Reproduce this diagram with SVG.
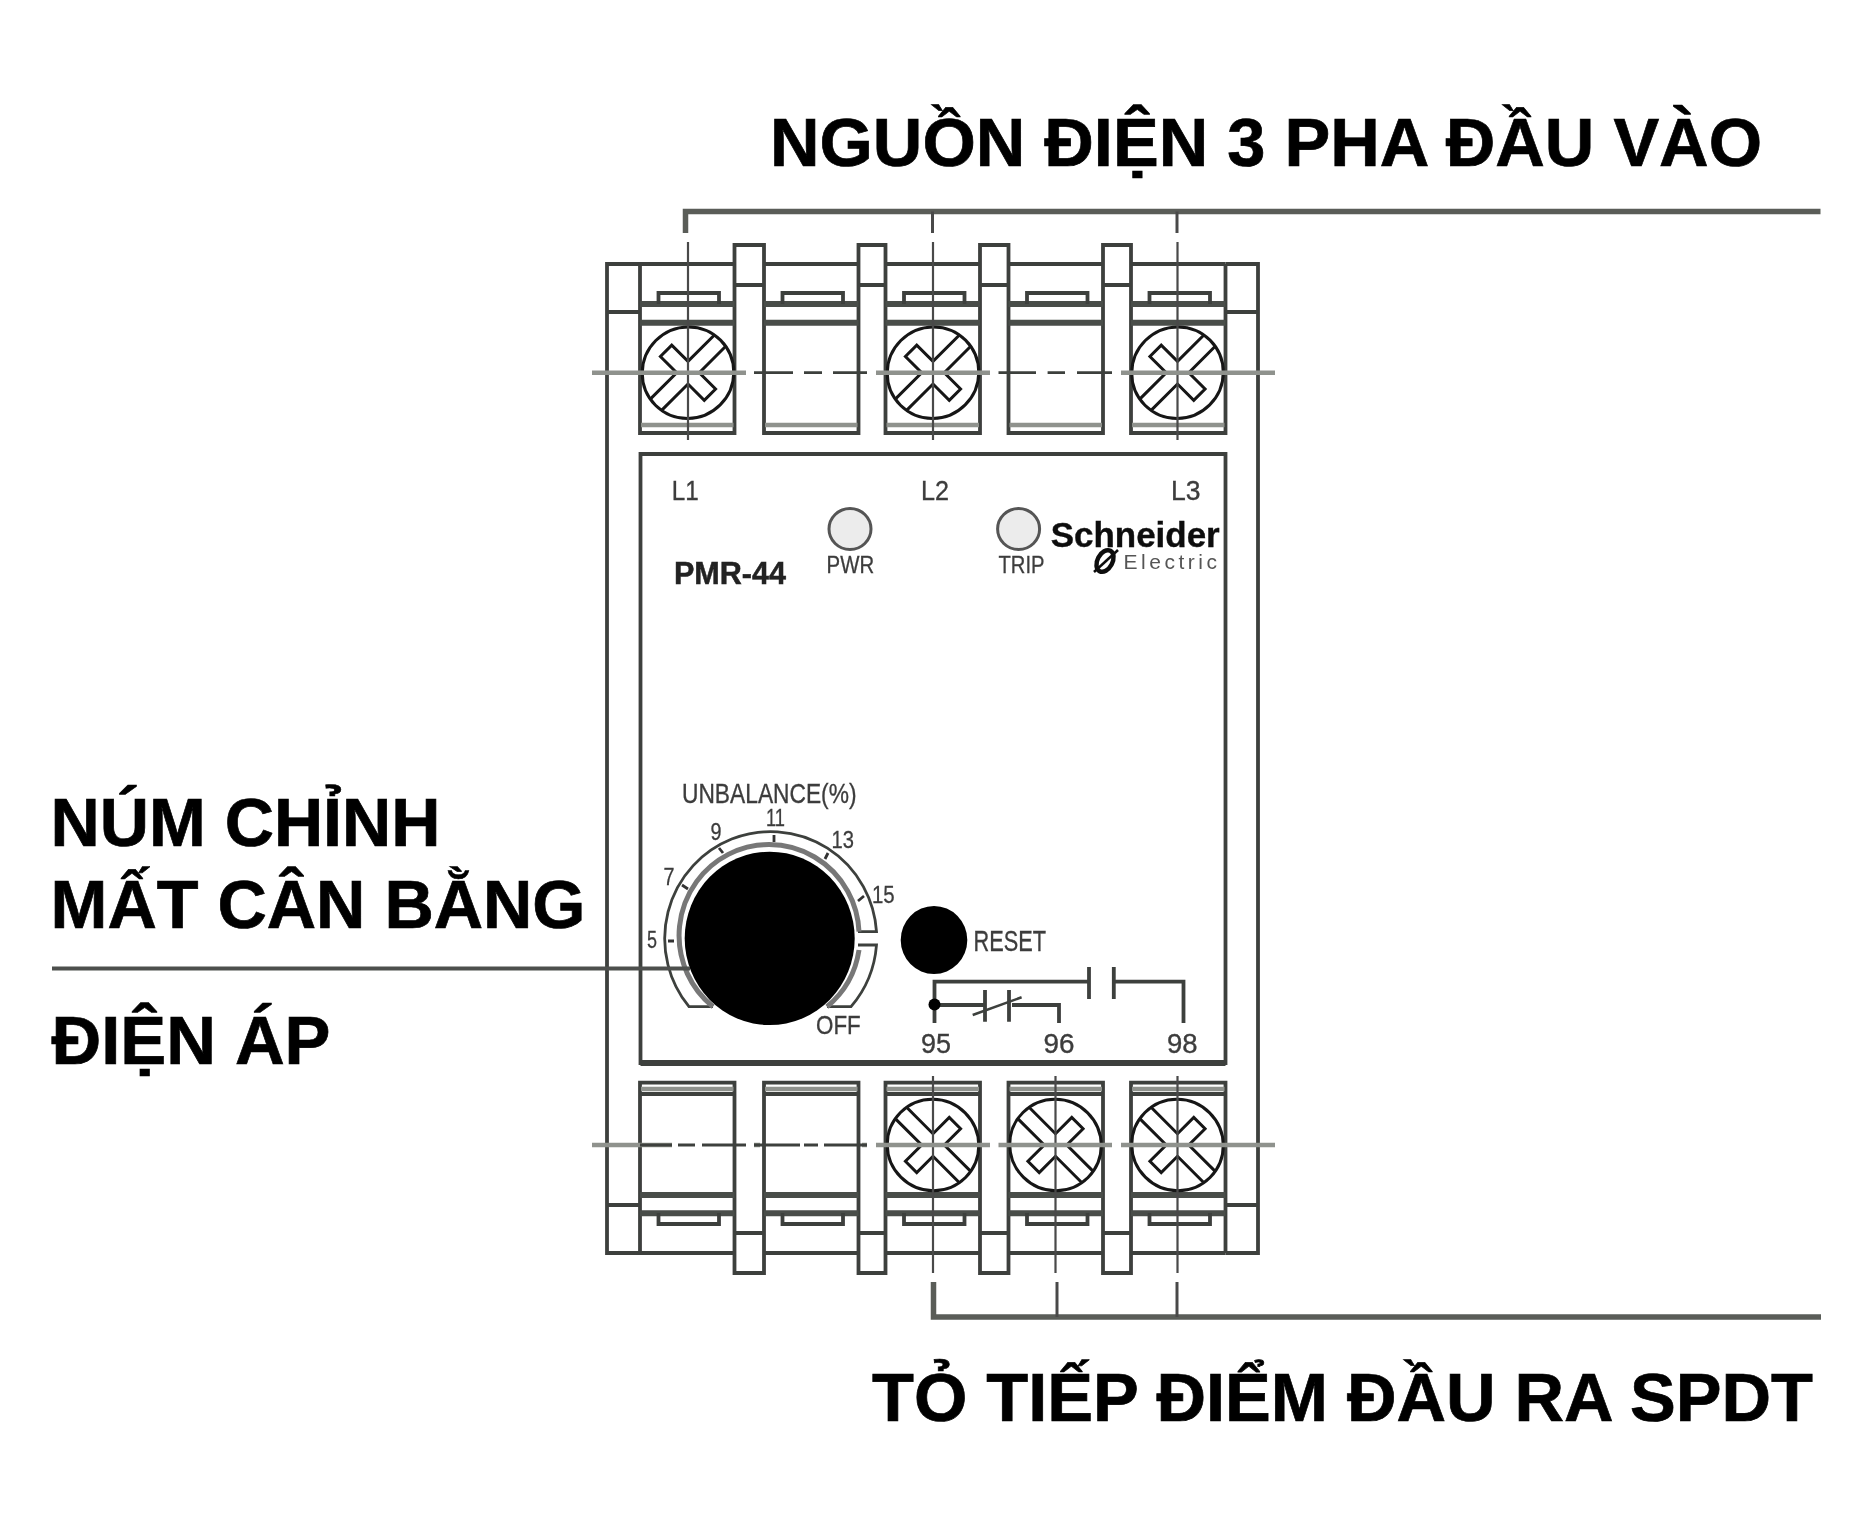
<svg xmlns="http://www.w3.org/2000/svg" xmlns:xlink="http://www.w3.org/1999/xlink" width="1876" height="1529" viewBox="0 0 1876 1529">
<style>
text{font-family:"Liberation Sans",Arial,sans-serif}
.h{font-weight:700;font-size:69px;fill:#000;stroke:#000;stroke-width:.7}
.l{font-size:28px;fill:#3c3c3c;stroke:#3c3c3c;stroke-width:.35}
.s{font-size:24px;fill:#3c3c3c;stroke:#3c3c3c;stroke-width:.3}
.ln{fill:none;stroke:#3d403d;stroke-width:3.8}
.th{fill:none;stroke:#4a4d4a;stroke-width:6}
.gr{fill:none;stroke:#8f928d;stroke-width:4.6}
.cl{fill:none;stroke:#4a4a4a;stroke-width:2.2}
.sc{fill:#fff;stroke:#161616;stroke-width:3}
.br{fill:none;stroke:#5a5d59;stroke-width:5.5}
</style>
<defs>
<filter id="soft" x="-2%" y="-2%" width="104%" height="104%"><feGaussianBlur stdDeviation="0.7"/></filter>
<g id="tt">
<path class="ln" d="M0,264V433H94.5V264"/>
<path class="th" d="M0,304H94.5M0,322.7H94.5"/>
<path class="gr" d="M1,425H93.5"/>
<path class="ln" d="M18.5,304V293H79V304"/>
</g>
<g id="tb">
<path class="ln" d="M0,1253V1082.7H94.5V1253"/>
<path class="gr" d="M1,1089H93.5"/>
<path class="ln" d="M0,1094H94.5"/>
<path class="th" d="M0,1195H94.5M0,1213.3H94.5"/>
<path class="ln" d="M18.5,1213V1224H79V1213"/>
</g>
<g id="screw">
<ellipse class="sc" cx="0" cy="0" rx="46" ry="45.5"/>
<path class="sc" style="fill:none" d="M-45,-8H-8V-31H8V-8H45M45,8H8V31H-8V8H-45"/>
</g>
</defs>
<rect width="1876" height="1529" fill="#fff"/>

<g id="device" filter="url(#soft)">
<g id="body">
<path class="ln" d="M640,264H607V1253H640M1225.5,264H1258V1253H1225.5"/>
<path class="ln" d="M607,312H640M1225.5,312H1258M607,1205H640M1225.5,1205H1258"/>
<path class="ln" d="M640,264H734.5M764,264H858.5M885.5,264H980M1008.5,264H1103M1131,264H1225.5"/>
<path class="ln" d="M640,1253H734.5M764,1253H858.5M885.5,1253H980M1008.5,1253H1103M1131,1253H1225.5"/>
</g>
<g id="posts-top">
<path class="ln" d="M734.5,264V245H764V264M734.5,285H764"/>
<path class="ln" d="M858.5,264V245H885.5V264M858.5,285H885.5"/>
<path class="ln" d="M980,264V245H1008.5V264M980,285H1008.5"/>
<path class="ln" d="M1103,264V245H1131V264M1103,285H1131"/>
</g>
<g id="posts-bottom">
<path class="ln" d="M734.5,1253V1273H764V1253M734.5,1233H764"/>
<path class="ln" d="M858.5,1253V1273H885.5V1253M858.5,1233H885.5"/>
<path class="ln" d="M980,1253V1273H1008.5V1253M980,1233H1008.5"/>
<path class="ln" d="M1103,1253V1273H1131V1253M1103,1233H1131"/>
</g>
<g id="terminals-top">
<use xlink:href="#tt" href="#tt" x="640"/><use xlink:href="#tt" href="#tt" x="764"/><use xlink:href="#tt" href="#tt" x="885.5"/><use xlink:href="#tt" href="#tt" x="1008.5"/><use xlink:href="#tt" href="#tt" x="1131"/>
</g>
<g id="terminals-bottom">
<use xlink:href="#tb" href="#tb" x="640"/><use xlink:href="#tb" href="#tb" x="764"/><use xlink:href="#tb" href="#tb" x="885.5"/><use xlink:href="#tb" href="#tb" x="1008.5"/><use xlink:href="#tb" href="#tb" x="1131"/>
</g>
<g id="screws">
<use xlink:href="#screw" href="#screw" transform="translate(688,372.7) rotate(-45)"/>
<use xlink:href="#screw" href="#screw" transform="translate(933,372.7) rotate(-45)"/>
<use xlink:href="#screw" href="#screw" transform="translate(1177.5,372.7) rotate(-45)"/>
<use xlink:href="#screw" href="#screw" transform="translate(933,1145) rotate(45)"/>
<use xlink:href="#screw" href="#screw" transform="translate(1055.5,1145) rotate(45)"/>
<use xlink:href="#screw" href="#screw" transform="translate(1177.5,1145) rotate(45)"/>
</g>
<g id="centre-lines">
<path class="cl" d="M688,242V440M933,242V440M1177.5,242V440M933,1076V1273M1055.5,1076V1273M1177.5,1076V1273"/>
<path class="gr" d="M592,372.7H746M876,372.7H990M1121,372.7H1275M592,1145H672M876,1145H990M998.5,1145H1112M1121,1145H1275M754,1145H760M862,1145H867"/>
<path class="ln" style="stroke-width:2.8" d="M754,372.7H793M804,372.7H822M833,372.7H867M998.5,372.7H1036M1047.6,372.7H1065M1077,372.7H1112M640,1145H672M678,1145H695M702,1145H746M754,1145H800M804,1145H818M824,1145H867"/>
</g>
<g id="panel">
<path class="ln" d="M640.5,454H1225.5V1063H640.5Z"/>
<path class="ln" style="stroke-width:6" d="M640.5,1063H1225.5"/>
<text class="l" x="671.7" y="500" textLength="27" lengthAdjust="spacingAndGlyphs">L1</text>
<text class="l" x="921" y="500" textLength="28" lengthAdjust="spacingAndGlyphs">L2</text>
<text class="l" x="1171" y="500" textLength="29.5" lengthAdjust="spacingAndGlyphs">L3</text>
<text x="674" y="584" font-size="31" font-weight="700" fill="#222" stroke="#222" stroke-width=".5" textLength="112" lengthAdjust="spacingAndGlyphs">PMR-44</text>
</g>
<g id="led-pwr">
<ellipse cx="850" cy="529" rx="21" ry="20.5" fill="#ececec" stroke="#555" stroke-width="3"/>
<text class="s" x="826.6" y="573" textLength="47.5" lengthAdjust="spacingAndGlyphs">PWR</text>
</g>
<g id="led-trip">
<ellipse cx="1018.6" cy="529" rx="21" ry="20.5" fill="#ececec" stroke="#555" stroke-width="3"/>
<text class="s" x="998.5" y="573" textLength="46" lengthAdjust="spacingAndGlyphs">TRIP</text>
</g>
<g id="logo">
<text x="1050.7" y="547" font-size="35" font-weight="700" fill="#111" stroke="#111" stroke-width=".4" textLength="169" lengthAdjust="spacingAndGlyphs">Schneider</text>
<ellipse cx="1105" cy="561" rx="7.5" ry="11.5" transform="rotate(28 1105 561)" fill="none" stroke="#111" stroke-width="4.5"/>
<path d="M1094,572L1118,550" stroke="#111" stroke-width="2.5"/>
<text x="1123.5" y="569" font-size="21" fill="#555" textLength="93.5" lengthAdjust="spacing">Electric</text>
</g>
<g id="unbalance-dial">
<text class="l" x="682" y="803" textLength="174.5" lengthAdjust="spacingAndGlyphs">UNBALANCE(%)</text>
<text class="s" x="766" y="826" textLength="19" lengthAdjust="spacingAndGlyphs">11</text>
<text class="s" x="710.5" y="840" textLength="11" lengthAdjust="spacingAndGlyphs">9</text>
<text class="s" x="831.6" y="848" textLength="22.4" lengthAdjust="spacingAndGlyphs">13</text>
<text class="s" x="663.6" y="885" textLength="11" lengthAdjust="spacingAndGlyphs">7</text>
<text class="s" x="872" y="903" textLength="22.7" lengthAdjust="spacingAndGlyphs">15</text>
<text class="s" x="647" y="948" textLength="10" lengthAdjust="spacingAndGlyphs">5</text>
<text class="s" x="816" y="1034" textLength="44.7" lengthAdjust="spacingAndGlyphs" style="font-size:25px">OFF</text>
<path fill="none" stroke="#3d403d" stroke-width="2.8" d="M713,1006.7H689A106,107 0 1 1 876.5,931.7H858"/>
<path fill="none" stroke="#3d403d" stroke-width="2.8" d="M858,945H876.5A106,107 0 0 1 851,1006.7H827"/>
<path fill="none" stroke="#777" stroke-width="5" d="M713,1006.7A90,91 0 1 1 859,931.7M859,950A90,91 0 0 1 827,1006.7"/>
<path fill="none" stroke="#333" stroke-width="2.8" d="M668,941H674M682,885L688,889M719,848L723,853M774,835V842M828,853L825,859M858,901L864,896"/>
<ellipse cx="769.7" cy="938.4" rx="85" ry="86.7" fill="#000"/>
</g>
<g id="reset">
<ellipse cx="934" cy="940" rx="33.3" ry="34" fill="#000"/>
<text class="l" x="973.5" y="950.7" textLength="72.5" lengthAdjust="spacingAndGlyphs" style="font-size:30px">RESET</text>
</g>
<g id="contacts">
<path class="ln" d="M934.5,1023V981.7H1089M1089,967V999M1113.8,967V999M1113.8,981.7H1183.5V1023"/>
<path class="ln" d="M934.5,1005H985M1012,1005H1059V1023M985,990V1021.7M1009,990V1021.7"/>
<path fill="none" stroke="#3d403d" stroke-width="2.5" d="M972.7,1015L1021.6,997.3"/>
<circle cx="934.5" cy="1004.5" r="6" fill="#000"/>
<text class="l" x="921" y="1053" textLength="30" lengthAdjust="spacingAndGlyphs">95</text>
<text class="l" x="1043.5" y="1053" textLength="31" lengthAdjust="spacingAndGlyphs">96</text>
<text class="l" x="1167" y="1053" textLength="30.6" lengthAdjust="spacingAndGlyphs">98</text>
</g>
</g>

<g id="connectors" filter="url(#soft)">
<path class="br" d="M685.5,233V211.5H1820.5"/>
<path class="cl" style="stroke-width:3" d="M932.5,211.5V233M1177,211.5V233"/>
<path class="br" d="M933.5,1282V1317H1821"/>
<path class="cl" style="stroke-width:3" d="M1057,1282V1317M1177,1282V1317"/>
<path class="cl" style="stroke-width:4;stroke:#4d4f4d" d="M52,968.5H690"/>
</g>

<g id="labels">
<text class="h" x="770" y="166" textLength="992" lengthAdjust="spacingAndGlyphs">NGUỒN ĐIỆN 3 PHA ĐẦU VÀO</text>
<text class="h" x="50.5" y="846" textLength="390" lengthAdjust="spacingAndGlyphs">NÚM CHỈNH</text>
<text class="h" x="50.5" y="927.7" textLength="535" lengthAdjust="spacingAndGlyphs">MẤT CÂN BẰNG</text>
<text class="h" x="51.5" y="1064" textLength="279" lengthAdjust="spacingAndGlyphs">ĐIỆN ÁP</text>
<text class="h" x="872" y="1420.7" textLength="941" lengthAdjust="spacingAndGlyphs">TỎ TIẾP ĐIỂM ĐẦU RA SPDT</text>
</g>
</svg>
